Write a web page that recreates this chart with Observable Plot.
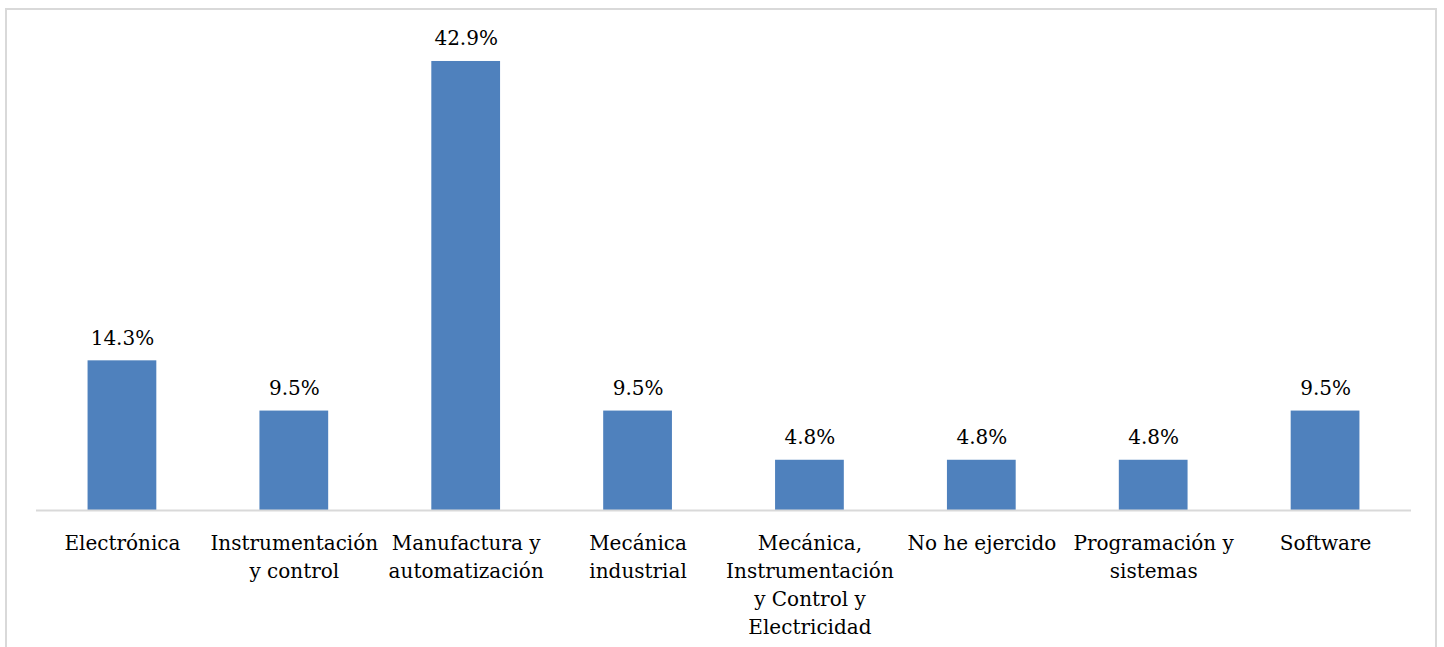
<!DOCTYPE html>
<html>
<head>
<meta charset="utf-8">
<script src="https://cdn.jsdelivr.net/npm/d3@7"></script>
<script src="https://cdn.jsdelivr.net/npm/@observablehq/plot@0.6"></script>
<style>
  html, body { margin: 0; padding: 0; background: #fff; }
  #wrap { position: relative; width: 1444px; height: 647px; overflow: hidden; }
  #border { position: absolute; left: 5px; top: 8px; width: 1432px; height: 700px; border: 2px solid #d9d9d9; box-sizing: border-box; }
  #chart { position: absolute; left: 0; top: 0; }
</style>
</head>
<body>
<div id="wrap">
  <div id="border"></div>
  <div id="chart"></div>
</div>
<script>
const categories = [
  "Electrónica",
  "Instrumentación\ny control",
  "Manufactura y\nautomatización",
  "Mecánica\nindustrial",
  "Mecánica,\nInstrumentación\ny Control y\nElectricidad",
  "No he ejercido",
  "Programación y\nsistemas",
  "Software"
];
const values = [14.3, 9.5, 42.9, 9.5, 4.8, 4.8, 4.8, 9.5];
const valueLabels = ["14.3%", "9.5%", "42.9%", "9.5%", "4.8%", "4.8%", "4.8%", "9.5%"];

const data = categories.map((c, i) => ({category: c, value: values[i], label: valueLabels[i]}));

const font = "'DejaVu Serif', serif";

const chart = Plot.plot({
  width: 1444,
  height: 647,
  marginLeft: 36,
  marginRight: 33,
  marginTop: 39,
  marginBottom: 137,
  style: {fontFamily: font, fontSize: "20px", color: "#000", background: "transparent"},
  x: {domain: categories, paddingInner: 0.6, paddingOuter: 0.3, round: false, label: null},
  y: {domain: [0, 45], axis: null},
  marks: [
    Plot.barY(data, {x: "category", y: "value", fill: "#4F81BD"}),
    Plot.ruleY([0], {stroke: "#d9d9d9", strokeWidth: 2}),
    Plot.text(data, {x: "category", y: "value", text: "label", lineAnchor: "bottom", dy: -16, fill: "#000", fontSize: 20}),
    Plot.axisX({tickSize: 0, tickPadding: 20, lineHeight: 1.4, fontSize: 20, fill: "#000", label: null})
  ]
});
document.getElementById("chart").appendChild(chart);
</script>
</body>
</html>
